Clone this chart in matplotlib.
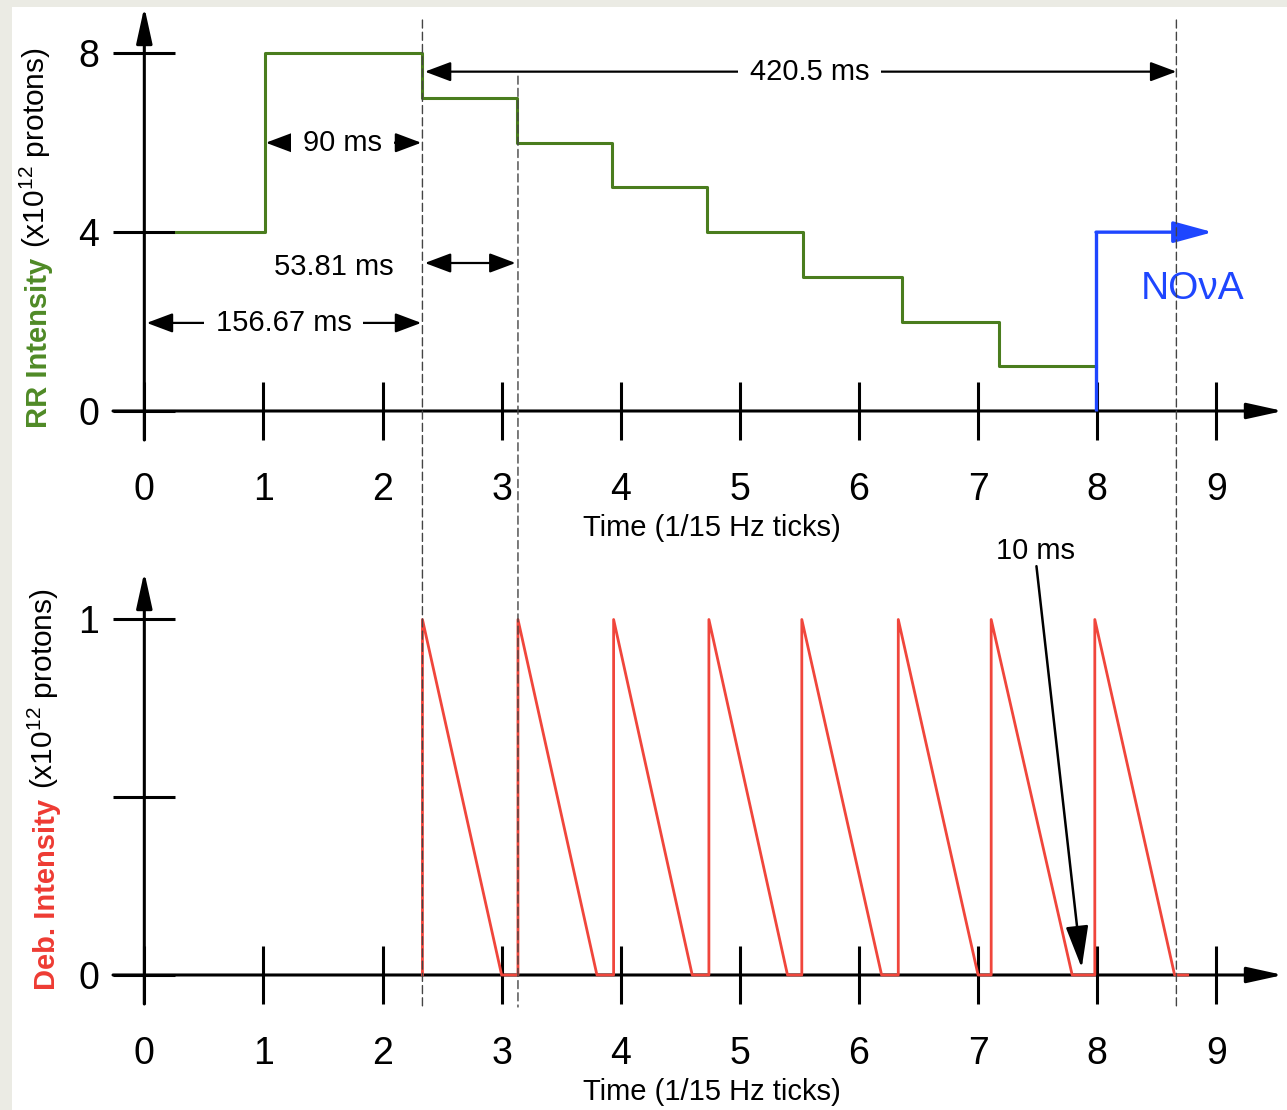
import matplotlib
matplotlib.use("Agg")
import matplotlib.pyplot as plt
from matplotlib.patches import Rectangle, ConnectionPatch

plt.rcParams['font.family'] = ['Liberation Sans', 'DejaVu Sans']
plt.rcParams['mathtext.fontset'] = 'custom'
plt.rcParams['mathtext.rm'] = 'Liberation Sans'

# Recycler ring intensity steps (time in 15 Hz ticks, intensity x1e12)
rr_times = [0.266, 1.01, 2.335, 3.13, 3.93, 4.725, 5.53, 6.36, 7.175, 7.99]
rr_levels = [4, 8, 7, 6, 5, 4, 3, 2, 1, 1]

# NOvA extraction line
nova_t = [7.99, 7.99, 8.97]
nova_v = [0, 4, 4]

# Debuncher sawtooth: rise times, end of ramp, tail end
deb_rise = [2.335, 3.137, 3.94, 4.74, 5.52, 6.33, 7.11, 7.98]
deb_zero = [3.0, 3.80, 4.60, 5.40, 6.19, 7.0, 7.79, 8.65]
deb_tail = 8.76
deb_peak = 1.0

# dashed markers (first extraction, second extraction, end of cycle)
marks = [2.335, 3.137, 8.665]

x_ticks = list(range(10))
rr_yticks = [0, 4, 8]
deb_yticks = [0, 0.5, 1]
deb_ylabels = ['0', '', '1']

green = '#4a7d1e'
green_lbl = '#4f8a26'
red = '#f0463c'
blue = '#1e46ff'

W, H = 1287, 1110
fig = plt.figure(figsize=(W / 100, H / 100), dpi=100, facecolor='#ebebe4')
fig.patches.append(Rectangle((12 / W, 0), 1, 1 - 7 / H, transform=fig.transFigure,
                             fc='white', ec='none', zorder=-10))

ax1 = fig.add_axes([113 / W, 1 - 440 / H, 1170 / W, 433 / H])
ax2 = fig.add_axes([113 / W, 1 - 1004 / H, 1170 / W, 432 / H])

ax1.set_xlim(-0.263, 9.56)
ax1.set_ylim(-0.649, 9.036)
ax2.set_xlim(-0.263, 9.56)
ax2.set_ylim(-0.0816, 1.1336)

axis_arrow = dict(arrowstyle='-|>,head_length=1.0,head_width=0.22', lw=2.2, color='black',
                  mutation_scale=22, shrinkA=0, shrinkB=0)
for ax in (ax1, ax2):
    ax.patch.set_visible(False)
    ax.spines['left'].set_position(('data', 0))
    ax.spines['bottom'].set_position(('data', 0))
    for s in ax.spines.values():
        s.set_visible(False)
    x0, x1 = ax.get_xlim()
    y0, y1 = ax.get_ylim()
    ax.annotate('', xy=(x1, 0), xytext=(x0, 0), arrowprops=axis_arrow, annotation_clip=False)
    ax.annotate('', xy=(0, y1), xytext=(0, y0), arrowprops=axis_arrow, annotation_clip=False)
    ax.set_xticks(x_ticks)
    ax.set_xticklabels([str(t) for t in x_ticks])
    ax.tick_params(axis='x', direction='inout', length=41.8, width=2.2, pad=23, labelsize=27)
    ax.tick_params(axis='y', direction='inout', length=45, width=2.2, pad=10, labelsize=27)

ax1.set_yticks(rr_yticks)
ax1.set_yticklabels([str(t) for t in rr_yticks])
ax2.set_yticks(deb_yticks)
ax2.set_yticklabels(deb_ylabels)

ax1.text(0.5115, -88 / 433, 'Time (1/15 Hz ticks)', transform=ax1.transAxes,
         ha='center', va='center', fontsize=21)
ax2.text(0.5115, -88 / 432, 'Time (1/15 Hz ticks)', transform=ax2.transAxes,
         ha='center', va='center', fontsize=21)

# top: RR intensity
ax1.step(rr_times, rr_levels, where='post', color=green, lw=2.2, zorder=3)
ax1.plot(nova_t[:2], nova_v[:2], color=blue, lw=2.4, zorder=3, solid_capstyle='butt')
ax1.annotate('', xy=(nova_t[2], nova_v[2]), xytext=(nova_t[1], nova_v[1]),
             arrowprops=dict(arrowstyle='-|>,head_length=1.1,head_width=0.3', lw=2.4,
                             color=blue, mutation_scale=22, shrinkA=0, shrinkB=0))
ax1.text(8.8, 2.73, 'NOνA', color=blue, fontsize=28, ha='center', va='center')

dim_arrow = dict(arrowstyle='<|-|>,head_length=0.8,head_width=0.3', lw=1.6, color='black',
                 mutation_scale=20, shrinkA=0, shrinkB=0)
white_box = dict(boxstyle='square,pad=0.4', fc='white', ec='none')

ax1.annotate('', xy=(marks[0] - 0.01, 1.97), xytext=(0.02, 1.97), arrowprops=dim_arrow)
ax1.text(1.168, 1.97, '156.67 ms', fontsize=21, ha='center', va='center', bbox=white_box, zorder=4)

ax1.annotate('', xy=(marks[0] - 0.01, 6.0), xytext=(1.02, 6.0), arrowprops=dim_arrow)
ax1.text(1.664, 6.0, '90 ms', fontsize=21, ha='center', va='center', bbox=white_box, zorder=4)

ax1.annotate('', xy=(marks[1] - 0.02, 3.31), xytext=(marks[0] + 0.02, 3.31), arrowprops=dim_arrow)
ax1.text(1.593, 3.22, '53.81 ms', fontsize=21, ha='center', va='center')

ax1.annotate('', xy=(marks[2], 7.59), xytext=(marks[0] + 0.02, 7.59), arrowprops=dim_arrow)
ax1.text(5.587, 7.59, '420.5 ms', fontsize=21, ha='center', va='center', bbox=white_box, zorder=4)

# bottom: debuncher sawtooth
deb_t, deb_v = [], []
for r, z in zip(deb_rise, deb_zero):
    deb_t += [r, r, z]
    deb_v += [0, deb_peak, 0]
deb_t.append(deb_tail)
deb_v.append(0)
ax2.plot(deb_t, deb_v, color=red, lw=2.0, zorder=3)

ax2.annotate('', xy=(7.87, 0.02), xytext=(7.49, 1.15),
             arrowprops=dict(arrowstyle='-|>,head_length=1.3,head_width=0.35', lw=1.8,
                             color='black', mutation_scale=20, shrinkA=0, shrinkB=0))
ax2.text(7.48, 1.193, '10 ms', fontsize=21, ha='center', va='center')

# dashed guides across both panels
tops = [8.745, 7.49, 8.745]
for m, t in zip(marks, tops):
    con = ConnectionPatch(xyA=(m, t), coordsA=ax1.transData, xyB=(m, -0.09), coordsB=ax2.transData,
                          color='#444444', lw=1.0, linestyle=(0, (5.8, 3.0)), zorder=5)
    fig.add_artist(con)

# y labels with two colours
t1 = fig.text(53 / W, 1 - 428 / H, 'RR Intensity', rotation=90, ha='right', va='bottom',
              color=green_lbl, fontsize=21, fontweight='bold')
a1 = fig.text(0, 0, '(x10$^{12}$ protons)', rotation=90, ha='right', va='bottom', fontsize=21.5)
a2 = fig.text(0, 0, '(x10$^{12}$ protons)', rotation=90, ha='right', va='bottom', fontsize=21.5)
t2 = fig.text(61 / W, 1 - 990 / H, 'Deb. Intensity', rotation=90, ha='right', va='bottom',
              color='#ee3b33', fontsize=21, fontweight='bold')

# place the plain part right after the coloured part
fig.canvas.draw()
inv = fig.transFigure.inverted()
for lbl, part in ((t1, a1), (t2, a2)):
    bb = lbl.get_window_extent()
    x, y = inv.transform((bb.x1, bb.y1 + 10))
    part.set_position((x, y))

fig.savefig('out.png', dpi=100)
